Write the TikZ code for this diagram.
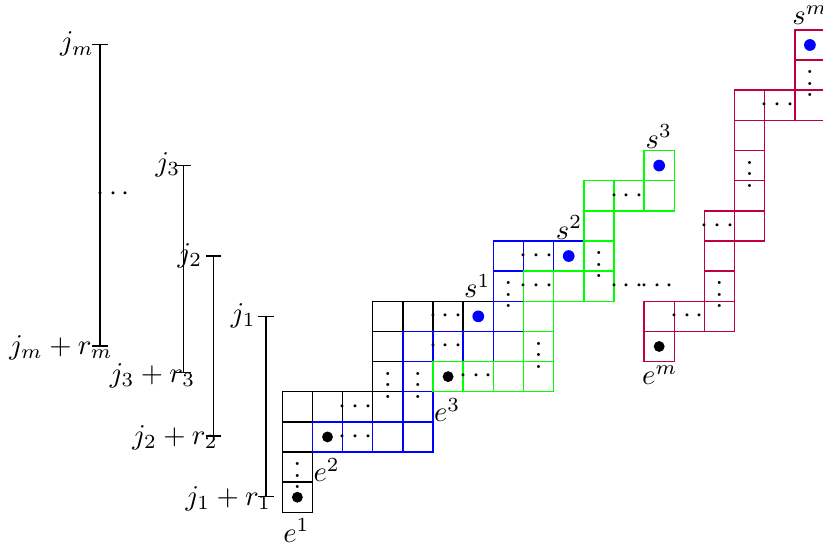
\documentclass[tikz,border=0pt]{standalone}
\usetikzlibrary{arrows.meta}
\begin{document}
\begin{tikzpicture}[x=0.37cm,y=0.37cm,
  blk/.style={draw=black,line width=0.5pt},
  blu/.style={draw=blue,line width=0.5pt},
  grn/.style={draw=green,line width=0.5pt},
  pur/.style={draw=purple,line width=0.5pt},
  hdots/.style={inner sep=0pt},
  vdots/.style={inner sep=0pt},
  edot/.style={circle,fill=black,inner sep=0pt,minimum size=3.8pt},
  sdot/.style={circle,fill=blue,inner sep=0pt,minimum size=4.1pt},
  barline/.style={line width=0.45pt,{Bar[width=5.3pt]}-{Bar[width=5.3pt]}},
  lab/.style={inner sep=0pt}]
\useasboundingbox (-9.363,-1.018) rectangle (17.934,16.992);
% black chain
\foreach \i/\j in {0/0,0/1,0/2,0/3,1/3,2/3,3/3,3/4,3/5,3/6,4/6,5/6,6/6}
  \draw[blk] (\i,\j) rectangle ++(1,1);
% blue chain
\foreach \i/\j in {1/2,2/2,3/2,4/2,4/3,4/4,4/5,5/5,6/5,7/5,7/6,7/7,7/8,8/8,9/8}
  \draw[blu] (\i,\j) rectangle ++(1,1);
% green chain
\foreach \i/\j in {5/4,6/4,7/4,8/4,8/5,8/6,8/7,9/7,10/7,10/8,10/9,10/10,11/10,12/10,12/11}
  \draw[grn] (\i,\j) rectangle ++(1,1);
% purple chain
\foreach \i/\j in {12/5,12/6,13/6,14/6,14/7,14/8,14/9,15/9,15/10,15/11,15/12,15/13,16/13,17/13,17/14,17/15}
  \draw[pur] (\i,\j) rectangle ++(1,1);
% dots in cells
\foreach \i/\j in {2/3,5/6,2/2,5/5,8/8,6/4,8/7,11/10,13/6,14/9,16/13,11/7,12/7}
  \node[hdots] (hd-\i-\j) at (\i+0.43,\j+0.5) {$\cdots$};
\foreach \i/\j in {0/1,3/4,4/4,7/7,8/5,10/8,14/7,15/11,17/14}
  \node[vdots] (vd-\i-\j) at (\i+0.5,\j+0.5) {$\vdots$};
% start and end points
\node[edot] (d1) at (0.5,0.5) {};
\node[edot] (d2) at (1.5,2.5) {};
\node[edot] (d3) at (5.5,4.5) {};
\node[edot] (dm) at (12.5,5.5) {};
\node[sdot] (t1) at (6.5,6.5) {};
\node[sdot] (t2) at (9.5,8.5) {};
\node[sdot] (t3) at (12.5,11.5) {};
\node[sdot] (tm) at (17.5,15.5) {};
% labels
\node[lab] (e1) at (0.47,-0.6) {$e^1$};
\node[lab] (e2) at (1.47,1.4) {$e^2$};
\node[lab] (e3) at (5.47,3.4) {$e^3$};
\node[lab] (em) at (12.52,4.55) {$e^m$};
\node[lab] (s1) at (6.47,7.51) {$s^1$};
\node[lab] (s2) at (9.51,9.45) {$s^2$};
\node[lab] (s3) at (12.49,12.46) {$s^3$};
\node[lab] (sm) at (17.5,16.49) {$s^m$};
% bars
\coordinate (mt) at (-6.046,15.53); \coordinate (mb) at (-6.046,5.49);
\coordinate (ct) at (-3.284,11.52); \coordinate (cb) at (-3.284,4.62);
\coordinate (bt) at (-2.275,8.52);  \coordinate (bb) at (-2.275,2.507);
\coordinate (at) at (-0.541,6.511); \coordinate (ab) at (-0.541,0.507);
\draw[barline] (mt) -- (mb);
\draw[barline] (ct) -- (cb);
\draw[barline] (bt) -- (bb);
\draw[barline] (at) -- (ab);
\node[lab] (jm) at (-6.809,15.53) {$j_m$};
\node[lab] (j3) at (-3.791,11.53) {$j_3$};
\node[lab] (j2) at (-3.061,8.517) {$j_2$};
\node[lab] (j1) at (-1.294,6.521) {$j_1$};
\node[lab] (jmr) at (-7.340,5.466) {$j_m+r_m$};
\node[lab] (j3r) at (-4.305,4.527) {$j_3+r_3$};
\node[lab] (j2r) at (-3.559,2.481) {$j_2+r_2$};
\node[lab] (j1r) at (-1.791,0.441) {$j_1+r_1$};
\node[lab] (bd) at (-5.612,10.557) {$\cdots$};
\end{tikzpicture}
\end{document}
